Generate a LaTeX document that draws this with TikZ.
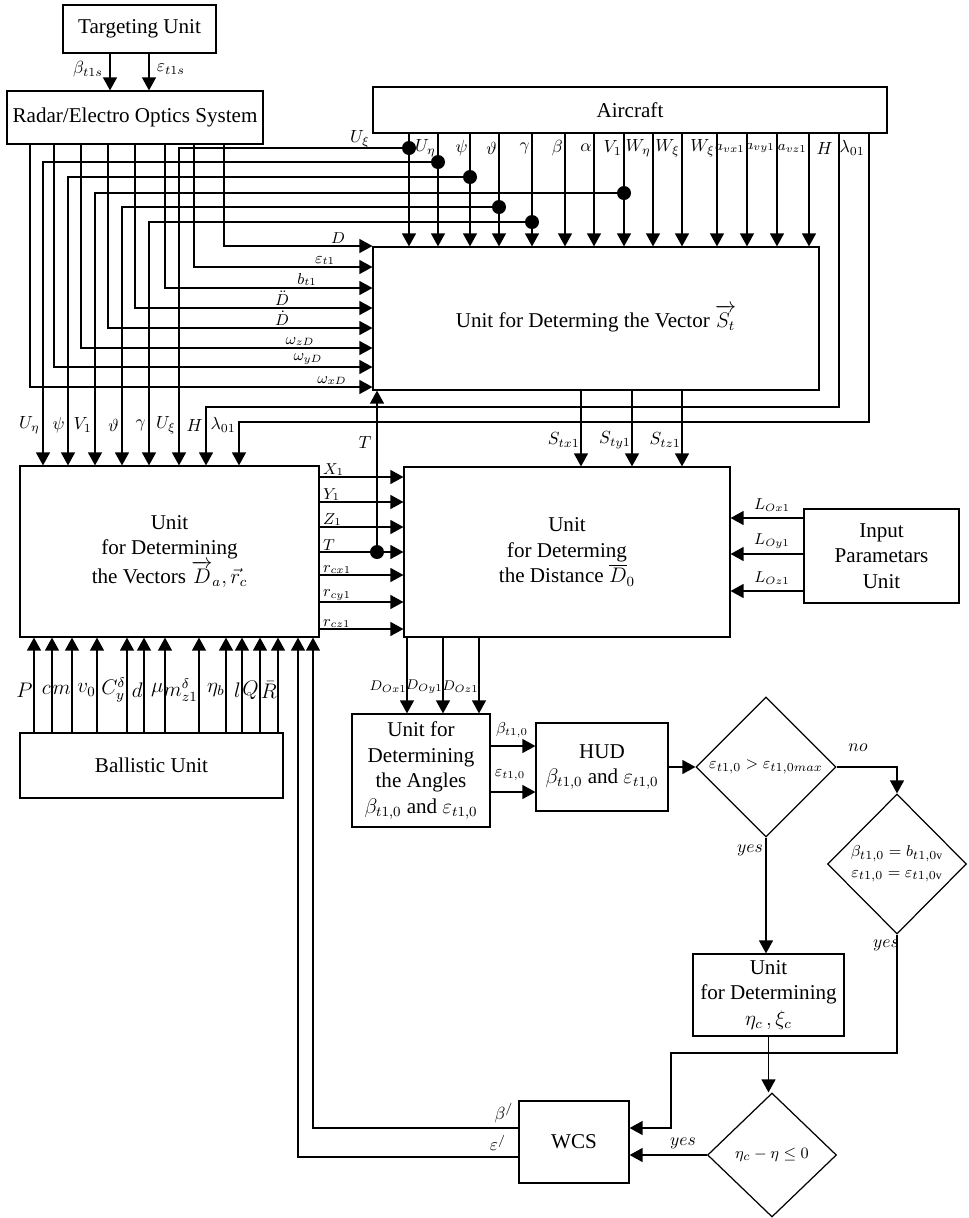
\documentclass[tikz,border=0pt]{standalone}
\usepackage{amsmath,amssymb}
\usepackage{fontspec}
\setmainfont{Liberation Serif}
\usetikzlibrary{arrows.meta,positioning,calc,shapes.geometric}

\tikzset{
  box/.style={draw, line width=0.7pt, align=center, inner sep=1pt, font=\fontsize{12}{14.5}\selectfont},
  dec/.style={draw, diamond, aspect=1, line width=0.7pt, align=center, inner sep=0pt, font=\fontsize{9.5}{11.5}\selectfont},
  ln/.style={line width=0.7pt},
  arr/.style={line width=0.7pt, -{Triangle[length=0.26cm,width=0.28cm]}},
  lbl/.style={inner sep=0.5pt, font=\fontsize{10}{12}\selectfont},
  smlbl/.style={inner sep=0.5pt, font=\fontsize{9}{11}\selectfont},
  biglbl/.style={inner sep=0pt, font=\fontsize{11.5}{14}\selectfont},
  dotb/.style={circle, fill, inner sep=0pt, minimum size=0.28cm},
}

\begin{document}
\begin{tikzpicture}[x=0.02cm, y=-0.02cm]
\useasboundingbox (0,0) rectangle (968,1218);

% blocks
\node[box, minimum width=3.06cm, minimum height=0.96cm] (tgt) at (139.5,29) {Targeting Unit};
\node[box, minimum width=5.12cm, minimum height=1.06cm] (radar) at (135,117.5) {Radar/Electro Optics System};
\node[box, minimum width=10.28cm, minimum height=0.92cm] (air) at (630,110) {Aircraft};
\node[box, minimum width=8.92cm, minimum height=2.86cm] (st) at (596,318.5) {Unit for Determing the Vector $\overrightarrow{S_t}$};
\node[box, minimum width=5.98cm, minimum height=3.42cm] (vec) at (169.5,551.5) {Unit\\for Determining\\the Vectors $\overrightarrow{D}_a,\vec{r}_c$};
\node[box, minimum width=6.52cm, minimum height=3.4cm] (dist) at (567,552) {Unit\\for Determing\\the Distance $\overline{D}_0$};
\node[box, minimum width=3.1cm, minimum height=1.88cm] (inp) at (881.5,556) {Input\\Parametars\\Unit};
\node[box, minimum width=5.26cm, minimum height=1.3cm] (bal) at (151.5,765.5) {Ballistic Unit};
\node[box, minimum width=2.76cm, minimum height=2.26cm] (ang) at (421,770.5) {Unit for\\Determining\\the Angles\\$\beta_{t1,0}$ and $\varepsilon_{t1,0}$};
\node[box, minimum width=2.64cm, minimum height=1.76cm] (hud) at (602,767) {HUD\\$\beta_{t1,0}$ and $\varepsilon_{t1,0}$};
\node[dec, minimum width=2.8cm, minimum height=2.8cm] (d1) at (766,767) {$\varepsilon_{t1,0}>\varepsilon_{t1,0max}$};
\node[dec, minimum width=2.78cm, minimum height=2.8cm] (d2) at (897,864) {$\beta_{t1,0}=b_{t1,0\mathrm{v}}$\\$\varepsilon_{t1,0}=\varepsilon_{t1,0\mathrm{v}}$};
\node[box, minimum width=3.02cm, minimum height=1.64cm] (eta) at (768.5,995) {Unit\\for Determining\\$\eta_c\,,\xi_c$};
\node[box, minimum width=2.2cm, minimum height=1.64cm] (wcs) at (574,1142) {WCS};
\node[dec, minimum width=2.58cm, minimum height=2.48cm] (d3) at (772,1155) {$\eta_c-\eta\le 0$};

% targeting unit -> radar
\path (tgt.south) ++(-29.5,0) coordinate (tb) ++(39,0) coordinate (te);
\draw[arr] (tb) -- (tb |- radar.north);
\draw[arr] (te) -- (te |- radar.north);
\node[lbl] (lbt) at (88,69) {$\beta_{t1s}$};
\node[lbl] (let) at (171,69) {$\varepsilon_{t1s}$};

% radar -> vector S_t
\foreach \cx/\ry/\lx/\txt [count=\i] in {224/246/338/D, 194/267/325/\varepsilon_{t1}, 165/288/307/b_{t1},
    135/308/282/\ddot{D}, 108/328/282/\dot{D}, 81/348/300/\omega_{zD}, 54/367/308/\omega_{yD}, 30/387/332/\omega_{xD}}{
  \coordinate (rb\i) at (\cx,\ry);
  \draw[arr] (radar.south -| rb\i) |- (st.west |- rb\i);
  \node[smlbl, above] (rl\i) at (\lx,\ry-1) {$\txt$};
}

% aircraft -> vector S_t
\foreach \cx/\fs/\txt [count=\i] in {409/10/U_\xi, 438/10/U_\eta, 470/10/\psi, 499/10/\vartheta,
    532/10/\gamma, 565/10/\beta, 594/10/\alpha, 624/10/V_1, 653/10/W_\eta,
    682/10/W_\xi, 717/10/W_\xi, 747/8/a_{vx1}, 777/8/a_{vy1}, 809/8/a_{vz1}}{
  \coordinate (ac\i) at (\cx,0);
  \draw[arr] (air.south -| ac\i) -- (st.north -| ac\i);
  \ifnum\i=1
    \node[lbl] (al\i) at (360,139) {$\txt$};
  \else
    \node[lbl, anchor=east, font=\fontsize{\fs}{12}\selectfont] (al\i) at (\cx-1,148) {$\txt$};
  \fi
}

% aircraft -> vectors D_a, r_c
\foreach \cx/\ry/\dx/\txt [count=\i] in {409/148/179/U_\xi, 438/162/43/U_\eta, 470/177/68/\psi,
    624/193/95/V_1, 499/207/122/\vartheta, 532/222/149/\gamma}{
  \coordinate (dv\i) at (\dx,\ry);
  \node[dotb] (dt\i) at (\cx,\ry) {};
  \draw[arr] (dt\i.center) -| (vec.north -| dv\i);
  \node[lbl, anchor=east] (vl\i) at (\dx-2,425) {$\txt$};
}
\coordinate (hb) at (839,407);
\coordinate (hv) at (206,407);
\draw[arr] (air.south -| hb) -- (hb) -- (hv) -- (vec.north -| hv);
\coordinate (lb) at (869,422);
\coordinate (lv) at (239,422);
\draw[arr] (air.south -| lb) -- (lb) -- (lv) -- (vec.north -| lv);
\node[lbl, anchor=east] (hl1) at (834,148) {$H$};
\node[lbl, anchor=east] (hl2) at (204,425) {$H$};
\node[lbl, anchor=east] (ll1) at (866,148) {$\lambda_{01}$};
\node[lbl, anchor=east] (ll2) at (237,425) {$\lambda_{01}$};

% vectors -> distance
\foreach \ry/\txt [count=\i] in {477/X_1, 502/Y_1, 527/Z_1, 552/T, 575/r_{cx1}, 602/r_{cy1}, 629/r_{cz1}}{
  \coordinate (vr\i) at (0,\ry);
  \draw[arr] (vec.east |- vr\i) -- (dist.west |- vr\i);
  \node[smlbl, above right] (vt\i) at (322,\ry) {$\txt$};
}
\node[dotb] (tdot) at (377,552) {};
\draw[arr] (tdot.center) -- (tdot |- st.south);
\node[lbl] (tl) at (365,442) {$T$};

% S_t -> distance
\foreach \cx/\txt [count=\i] in {581/S_{tx1}, 632/S_{ty1}, 682/S_{tz1}}{
  \coordinate (sc\i) at (\cx,0);
  \draw[arr] (st.south -| sc\i) -- (dist.north -| sc\i);
  \node[lbl, left] (sl\i) at (\cx,440) {$\txt$};
}

% input parameters -> distance
\foreach \ry/\txt [count=\i] in {518/L_{Ox1}, 554/L_{Oy1}, 591/L_{Oz1}}{
  \coordinate (ir\i) at (0,\ry);
  \draw[arr] (inp.west |- ir\i) -- (dist.east |- ir\i);
  \node[smlbl] (il\i) at (772,\ry-13) {$\txt$};
}

% distance -> angles
\foreach \cx/\txt [count=\i] in {407/D_{Ox1}, 443/D_{Oy1}, 479/D_{Oz1}}{
  \coordinate (dc\i) at (\cx,0);
  \draw[arr] (dist.south -| dc\i) -- (ang.north -| dc\i);
  \node[smlbl, anchor=east, font=\fontsize{8.5}{10}\selectfont] (dl\i) at (\cx+1,687) {$\txt$};
}

% angles -> HUD -> decisions
\coordinate (ab) at (0,746);
\coordinate (ae) at (0,792);
\draw[arr] (ang.east |- ab) -- (hud.west |- ab);
\draw[arr] (ang.east |- ae) -- (hud.west |- ae);
\node[smlbl] (abl) at (512,730) {$\beta_{t1,0}$};
\node[smlbl] (ael) at (510,775) {$\varepsilon_{t1,0}$};
\draw[arr] (hud.east) -- (hud.east -| d1.west);
\draw[arr] (d1.south) -- (d1.south |- eta.north);
\node[lbl] (y1) at (750,850) {$yes$};
\draw[arr] (d1.east) -| (d2.north);
\node[lbl] (n1) at (858,748) {$no$};

% back to WCS
\coordinate (fb) at (671,1053);
\draw[arr] (d2.south) |- (fb) |- ($(wcs.east)+(0,-14)$);
\node[lbl] (y2) at (886,945) {$yes$};
\draw[arr] (eta.south) -- (eta.south |- d3.north);
\draw[arr] (d3.west) -- (d3.west -| wcs.east);
\node[lbl] (y3) at (683,1143) {$yes$};

% WCS -> vectors
\coordinate (wb) at (313,1128);
\coordinate (we) at (298,1157);
\draw[arr] (wcs.west |- wb) -| (vec.south -| wb);
\draw[arr] (wcs.west |- we) -| (vec.south -| we);
\node[lbl] (wbl) at (504,1113) {$\beta^{/}$};
\node[lbl] (wel) at (498,1143) {$\varepsilon^{/}$};

% ballistic -> vectors
\foreach \cx/\txt [count=\i] in {34/P, 52/c, 72/m, 97/v_0, 127/C_y^\delta, 144/d,
    165/\mu, 199/m_{z1}^\delta, 226/\eta_b, 242/l, 260/Q, 278/\bar{R}}{
  \coordinate (bc\i) at (\cx,0);
  \draw[arr] (bal.north -| bc\i) -- (vec.south -| bc\i);
  \node[biglbl, anchor=east] (bl\i) at (\cx-1,690) {$\txt$};
}
\end{tikzpicture}
\end{document}
